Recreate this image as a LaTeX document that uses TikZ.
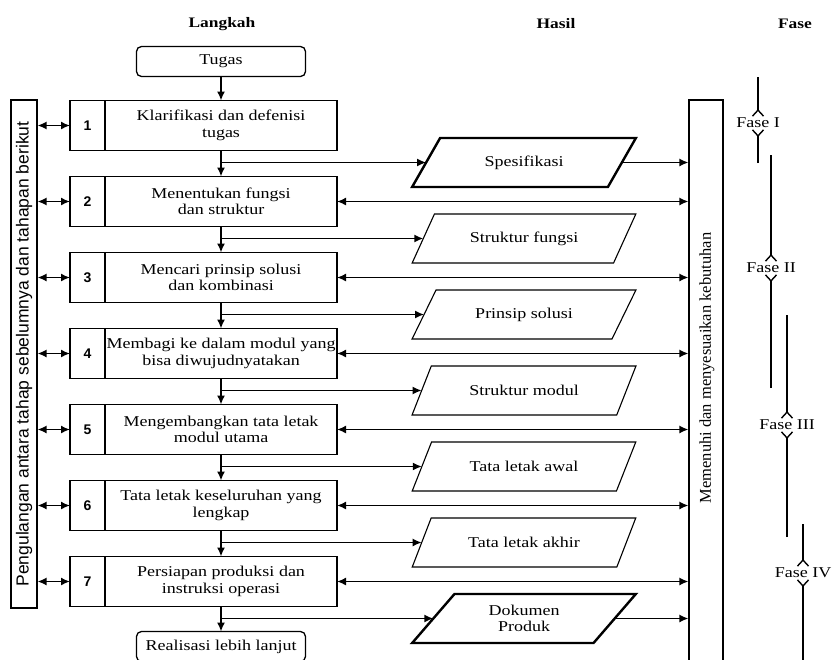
\documentclass[tikz,border=0pt]{standalone}
\usepackage{fontspec}
\setmainfont{Liberation Serif}[FakeStretch=1.2]
\setsansfont{Liberation Sans}
\newfontfamily\plainserif{Liberation Serif}
\usetikzlibrary{arrows.meta, positioning, shapes.geometric}

\tikzset{
  every node/.style={font=\fontsize{15}{16.5}\selectfont},
  head/.style={font=\bfseries\fontsize{14.5}{16}\selectfont},
  numbox/.style={draw, line width=1.3pt, outer sep=0pt, inner sep=0pt,
    minimum width=35pt, minimum height=50pt,
    font=\sffamily\bfseries\fontsize{14}{16}\selectfont},
  stepbox/.style={draw, line width=1.3pt, outer sep=0pt, inner sep=0pt,
    minimum width=232pt, minimum height=50pt, align=center},
  endbox/.style={draw, line width=1.3pt, rounded corners=5pt, outer sep=0pt,
    minimum width=169pt, minimum height=30pt},
  result/.style={draw, line width=1.1pt, trapezium, trapezium left angle=55,
    trapezium right angle=125, trapezium stretches=true, outer sep=0pt,
    minimum width=224pt, minimum height=49pt, align=center},
  keyresult/.style={result, line width=2.4pt},
  bar/.style={draw, line width=1.1pt, inner sep=0pt},
  fasetext/.style={inner sep=1pt},
  flow/.style={line width=1.6pt, -{Latex[length=9pt,width=8pt]}},
  twoway/.style={line width=1.6pt, {Latex[length=9pt,width=8pt]}-{Latex[length=9pt,width=8pt]}},
  fase/.style={line width=1.4pt, -{Straight Barb[reversed,length=6pt,width=11pt]}},
}

\begin{document}
\begin{tikzpicture}[x=1pt, y=-1pt]
  \useasboundingbox (0,0) rectangle (833,659);

  % judul kolom
  \node[head] (hlangkah) at (222,24) {Langkah};
  \node[head] (hhasil) at (556,24) {Hasil};
  \node[head] (hfase) at (795,24) {Fase};

  % langkah-langkah
  \node[stepbox] (s1) at (221,125.5) {Klarifikasi dan defenisi\\tugas};
  \node[stepbox, below=26pt of s1] (s2) {Menentukan fungsi\\dan struktur};
  \node[stepbox, below=26pt of s2] (s3) {Mencari prinsip solusi\\dan kombinasi};
  \node[stepbox, below=26pt of s3] (s4) {Membagi ke dalam modul yang\\bisa diwujudnyatakan};
  \node[stepbox, below=26pt of s4] (s5) {Mengembangkan tata letak\\modul utama};
  \node[stepbox, below=26pt of s5] (s6) {Tata letak keseluruhan yang\\lengkap};
  \node[stepbox, below=26pt of s6] (s7) {Persiapan produksi dan\\instruksi operasi};
  \node[numbox, left=0pt of s1] (n1) {1};
  \node[numbox, left=0pt of s2] (n2) {2};
  \node[numbox, left=0pt of s3] (n3) {3};
  \node[numbox, left=0pt of s4] (n4) {4};
  \node[numbox, left=0pt of s5] (n5) {5};
  \node[numbox, left=0pt of s6] (n6) {6};
  \node[numbox, left=0pt of s7] (n7) {7};
  \node[endbox, above=24pt of s1] (tugas) {Tugas};
  \node[endbox, below=25pt of s7] (realisasi) {Realisasi lebih lanjut};

  % hasil
  \node[keyresult] (p1) at (524,162.5) {Spesifikasi};
  \node[result] (p2) at (524,238.5) {Struktur fungsi};
  \node[result] (p3) at (524,314.5) {Prinsip solusi};
  \node[result] (p4) at (524,390.5) {Struktur modul};
  \node[result] (p5) at (524,466.5) {Tata letak awal};
  \node[result] (p6) at (524,542.5) {Tata letak akhir};
  \node[keyresult] (p7) at (524,618.5) {Dokumen\\Produk};

  % kolom samping
  \node[bar, minimum width=26pt, minimum height=508pt] (ulang) at (24,354) {};
  \node[rotate=90, font=\sffamily\fontsize{17.5}{19}\selectfont] (ulangtext) at (ulang.center)
    {Pengulangan antara tahap sebelumnya dan tahapan berikut};
  \node[bar, minimum width=34pt, minimum height=570pt] (need) at (706,385) {};
  \node[rotate=90, font=\plainserif\fontsize{16.5}{18}\selectfont] (needtext) at (707,368)
    {Memenuhi dan menyesuaikan kebutuhan};

  \draw[flow] (tugas) -- (s1);
  \foreach \a/\b in {s1/s2, s2/s3, s3/s4, s4/s5, s5/s6, s6/s7, s7/realisasi}
    \draw[flow] (\a) -- (\b);
  \foreach \s/\p in {s1/p1, s2/p2, s3/p3, s4/p4, s5/p5, s6/p6, s7/p7}
    \draw[flow] (\s.south |- \p.left side) -- (\p.left side);
  \foreach \n in {n1, n2, n3, n4, n5, n6, n7}
    \draw[twoway] (\n.west -| ulang.east) -- (\n.west);
  \foreach \s in {s2, s3, s4, s5, s6, s7}
    \draw[twoway] (\s.east) -- (\s.east -| need.west);
  \draw[flow] (p1.right side) -- (p1.right side -| need.west);
  \draw[flow] (p7.right side) -- (p7.right side -| need.west);

  % fase
  \node[fasetext] (f1) at (758,123) {Fase I};
  \node[fasetext] (f2) at (771,268) {Fase II};
  \node[fasetext] (f3) at (787,425) {Fase III};
  \node[fasetext, inner xsep=0pt] (f4) at (803,573) {Fase IV};
  \coordinate (f1top) at (758,77);
  \coordinate (f1bot) at (758,163);
  \coordinate (f2top) at (771,155);
  \coordinate (f2bot) at (771,388);
  \coordinate (f3top) at (787,315);
  \coordinate (f3bot) at (787,537);
  \coordinate (f4top) at (803,524);
  \coordinate (f4bot) at (803,670);
  \foreach \f in {f1, f2, f3, f4} {
    \draw[fase] (\f top) -- (\f.north);
    \draw[fase] (\f bot) -- (\f.south);
  }
\end{tikzpicture}
\end{document}
